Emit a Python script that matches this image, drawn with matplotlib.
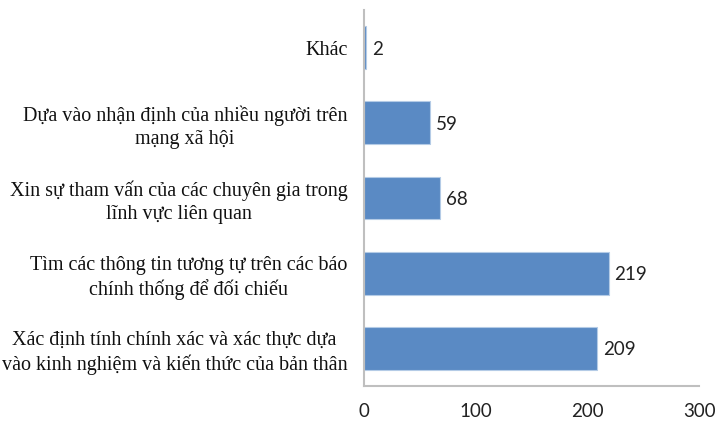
import matplotlib
matplotlib.use("Agg")
import matplotlib.pyplot as plt

categories = [
    "Xác định tính chính xác và xác thực dựa\nvào kinh nghiệm và kiến thức của bản thân",
    "Tìm các thông tin tương tự trên các báo\nchính thống để đối chiếu",
    "Xin sự tham vấn của các chuyên gia trong\nlĩnh vực liên quan",
    "Dựa vào nhận định của nhiều người trên\nmạng xã hội",
    "Khác",
]
values = [209, 219, 68, 59, 2]
xticks = [0, 100, 200, 300]

fig = plt.figure(figsize=(7.17, 4.22), dpi=100)
ax = fig.add_axes([0.5077, 0.0853, 0.4673, 0.8907])

bars = ax.barh(range(len(categories)), values, height=0.57,
               color="#5A8AC4", edgecolor="#B4CBE6", linewidth=0.8)
ax.set_xlim(0, 300)
ax.set_ylim(-0.5, len(categories) - 0.5)
ax.set_xticks(xticks)
ax.set_xticklabels([str(t) for t in xticks], fontfamily="Lato", fontsize=13.5, color="#222222")
ax.set_yticks(range(len(categories)))
ax.set_yticklabels(categories, fontfamily="Liberation Serif", fontsize=14.5,
                   multialignment="center", linespacing=1.25, color="#111111")
ax.tick_params(axis="both", length=0)
ax.tick_params(axis="y", pad=12)
ax.tick_params(axis="x", pad=12)

for s in ["top", "right"]:
    ax.spines[s].set_visible(False)
for s in ["left", "bottom"]:
    ax.spines[s].set_color("#BFBFBF")
    ax.spines[s].set_linewidth(1.5)

for b, v in zip(bars, values):
    ax.annotate(str(v), (b.get_width(), b.get_y() + b.get_height() / 2),
                xytext=(4, -1), textcoords="offset points", va="center", ha="left",
                fontfamily="Lato", fontsize=13.5, color="#222222")

fig.savefig("out.png", dpi=100)
